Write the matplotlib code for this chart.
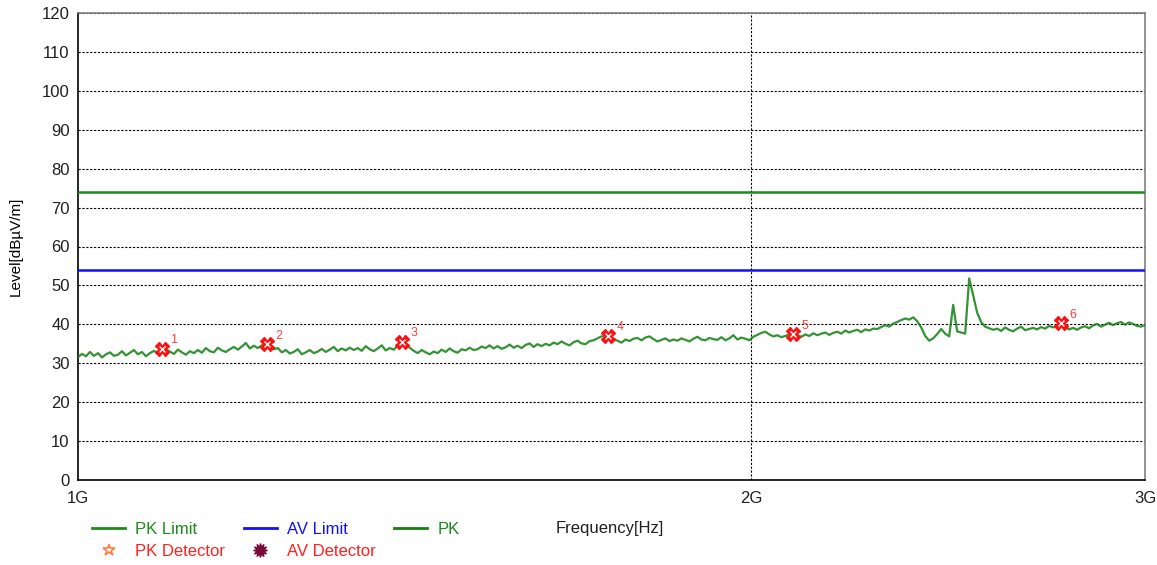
import numpy as np
import matplotlib
matplotlib.use("Agg")
import matplotlib.pyplot as plt
from matplotlib.lines import Line2D

plt.rcParams['font.family'] = ['Liberation Sans', 'DejaVu Sans']

# limits (dBuV/m)
pk_limit = 74
av_limit = 54

# PK trace levels, sweep 1 GHz -> 3 GHz (log-spaced points)
pk_levels = [
    31.6, 32.4, 31.8, 32.9, 31.9, 32.6, 31.5, 32.3, 32.8, 31.9,
    32.2, 33.1, 32.0, 32.7, 33.4, 32.3, 32.9, 31.8, 32.6, 33.2,
    32.5, 33.3, 33.6, 33.0, 32.4, 33.5, 32.8, 32.2, 33.1, 32.6,
    33.4, 32.7, 33.9, 33.1, 32.8, 34.0, 33.3, 32.9, 33.6, 34.2,
    33.5, 34.3, 35.2, 33.8, 34.5, 33.9, 34.6, 35.0, 34.2, 33.6,
    33.9, 32.8, 33.4, 32.5, 32.9, 33.6, 32.3, 32.8, 33.4, 32.6,
    33.0, 33.7, 32.9, 33.5, 34.2, 33.1, 33.8, 33.3, 34.0, 33.4,
    33.9, 33.2, 34.4, 33.6, 33.1, 33.8, 34.6, 33.3, 33.9, 33.5,
    34.5, 35.3, 34.8, 34.0, 33.2, 32.6, 33.4, 32.8, 32.3, 33.0,
    32.6, 33.5, 32.9, 33.8, 33.1, 32.7, 33.6, 33.3, 34.0, 33.4,
    33.6, 34.3, 33.9, 34.6, 33.8, 34.4, 33.7, 34.1, 34.8, 34.0,
    34.5, 33.9, 34.7, 35.1, 34.2, 34.9, 34.4, 35.0, 34.6, 35.3,
    34.9, 35.6, 35.0, 34.6, 35.4, 35.8, 35.1, 34.9, 35.7, 35.9,
    36.4, 36.9, 37.0, 36.6, 36.2, 35.8, 35.3, 36.1, 35.7, 36.3,
    36.5, 35.9, 36.6, 36.9, 36.2, 35.6, 36.0, 36.4, 35.7, 36.1,
    35.8, 36.4, 36.0, 35.6, 36.3, 36.8, 36.1, 35.9, 36.5, 36.2,
    36.0, 36.7, 35.9, 36.4, 37.2, 36.1, 36.6, 36.3, 35.9, 36.8,
    37.3, 37.8, 38.1, 37.4, 36.9, 37.2, 36.7, 37.0, 37.5, 37.1,
    37.3, 36.8, 37.4, 37.0, 37.7, 37.2, 37.6, 37.9, 37.3, 37.8,
    38.1, 37.6, 38.4, 37.9, 38.3, 38.6, 38.0, 38.7, 38.4, 38.9,
    38.8, 39.3, 39.8, 39.4, 40.2, 40.6, 41.1, 41.5, 41.2, 41.8,
    40.8, 39.2, 37.0, 35.8, 36.4, 37.5, 38.8, 37.6, 36.9, 45.0,
    38.2, 37.9, 37.6, 51.8, 47.5, 43.0, 40.6, 39.4, 39.0, 38.6,
    38.9, 38.3, 39.2, 38.6, 38.2, 38.9, 39.4, 38.5, 38.8, 39.1,
    38.7, 39.3, 38.9, 39.6, 39.2, 39.8, 40.0, 39.3, 38.7, 39.1,
    38.6, 39.2, 39.5, 39.0, 39.7, 40.1, 39.4, 39.9, 40.4, 39.8,
    40.3, 40.6, 39.9, 40.5, 40.1, 39.6, 39.4, 39.8,
]
pk_freq = np.geomspace(1000, 3000, len(pk_levels))  # MHz

# detected peaks
peak_freq = [1090, 1215, 1396, 1726, 2088, 2752]  # MHz
peak_level = [33.7, 34.9, 35.5, 37.0, 37.5, 40.3]
peak_labels = ["1", "2", "3", "4", "5", "6"]

y_ticks = list(range(0, 121, 10))
x_ticks = [1000, 2000, 3000]
x_tick_labels = ["1G", "2G", "3G"]

fig = plt.figure(figsize=(11.57, 5.65), dpi=100)
ax = fig.add_axes([78 / 1157, 1 - 480 / 565, 1067 / 1157, 467 / 565])

ax.set_xscale("log")
ax.set_xlim(1000, 3000)
ax.set_ylim(0, 120)

ax.axhline(pk_limit, color="#1a8c1a", lw=1.8, zorder=3)
ax.axhline(av_limit, color="#1010ff", lw=1.8, zorder=3)
ax.plot(pk_freq, pk_levels, color="#108010", lw=1.6, alpha=0.85, zorder=4)

ax.plot(peak_freq, peak_level, ls="none", marker="X", ms=10,
        mfc="#ff1010", mec="#ff1010", zorder=5)
ax.plot(peak_freq, peak_level, ls="none", marker="x", ms=4, mew=1,
        color="white", zorder=6)
for f, lv, lab in zip(peak_freq, peak_level, peak_labels):
    ax.annotate(lab, (f, lv), xytext=(6, 4), textcoords="offset points",
                color="#ff4040", fontsize=9)

ax.set_yticks(y_ticks)
ax.set_xticks(x_ticks)
ax.set_xticklabels(x_tick_labels)
ax.xaxis.set_minor_locator(plt.NullLocator())
ax.tick_params(axis="both", length=0, labelsize=12, colors="#202020")
ax.tick_params(axis="y", pad=6)
ax.tick_params(axis="x", pad=8)

ax.grid(True, which="major", color="black", lw=0.8, ls=(0, (2, 1.5)))
ax.xaxis.grid(False)
ax.axvline(2000, color="black", lw=0.8, ls=(0, (2, 1.5)))

ax.spines["top"].set_color("#808080")
ax.spines["right"].set_color("#808080")
ax.spines["left"].set_color("black")
ax.spines["bottom"].set_color("black")
for s in ax.spines.values():
    s.set_linewidth(1.2)

ax.set_ylabel("Level[dBµV/m]", fontsize=11, labelpad=14)
fig.text(610 / 1157, 1 - 528 / 565, "Frequency[Hz]", fontsize=12,
         ha="center", va="center", color="#202020")

handles = [
    Line2D([], [], color="#1a8c1a", lw=2),
    Line2D([], [], ls="none", marker="*", ms=9, mfc="none", mec="#ff7f40", mew=1.2),
    Line2D([], [], color="#1010ff", lw=2),
    Line2D([], [], ls="none", marker=(12, 1, 0), ms=10, color="#7a0a3a"),
    Line2D([], [], color="#108010", lw=2),
]
labels = ["PK Limit", "PK Detector", "AV Limit", "AV Detector", "PK"]
text_colors = ["#1a8c1a", "#ff2020", "#1010ff", "#ff2020", "#1a8c1a"]
leg = fig.legend(handles, labels, ncol=3, frameon=False, fontsize=12,
                 loc="upper left", bbox_to_anchor=(92 / 1157, 1 - 522 / 565),
                 handlelength=2.0, handletextpad=0.6, columnspacing=1.1,
                 labelspacing=0.4, borderpad=0, borderaxespad=0)
for t, c in zip(leg.get_texts(), text_colors):
    t.set_color(c)

fig.savefig("out.png", dpi=100)
